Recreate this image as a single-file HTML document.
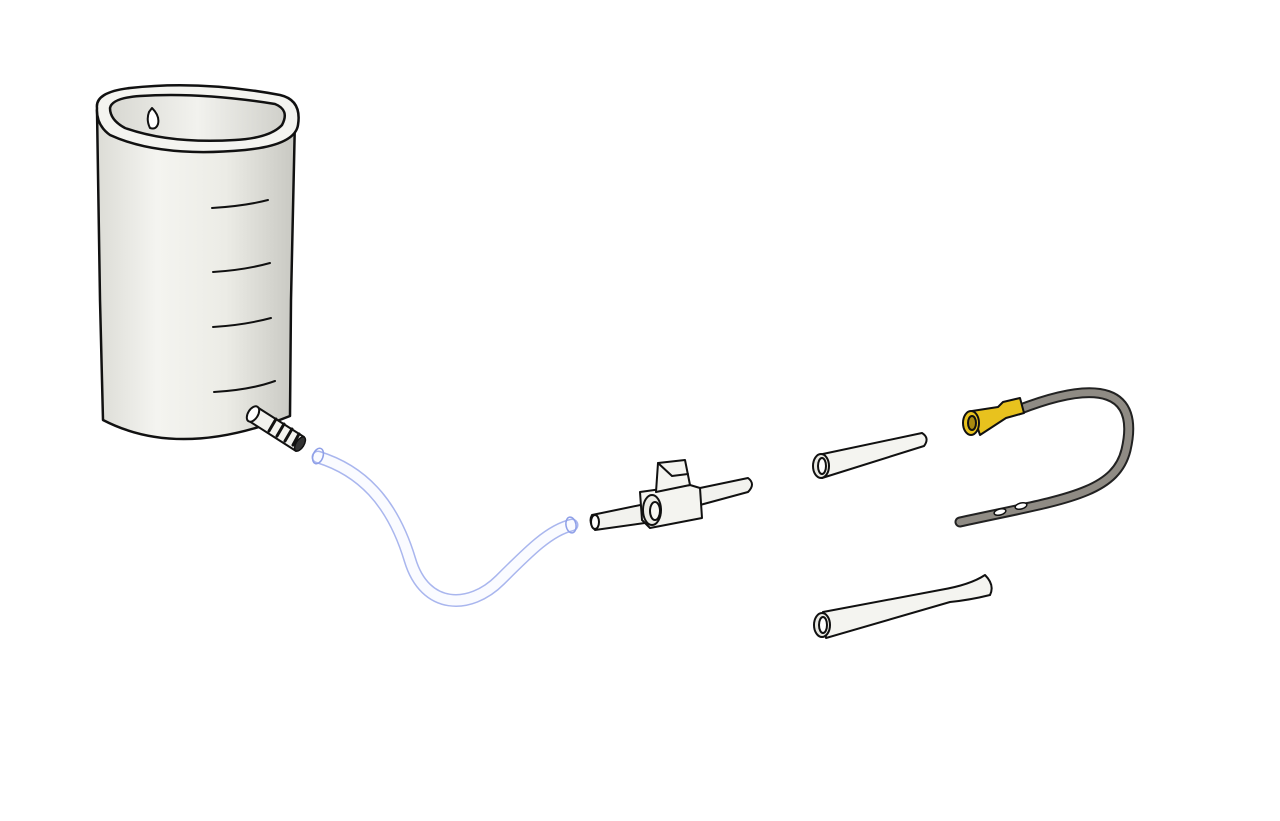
<!DOCTYPE html>
<html><head><style>html,body{margin:0;padding:0;background:#fff}svg{display:block}</style></head>
<body>
<svg width="1280" height="821" viewBox="0 0 1280 821" xmlns="http://www.w3.org/2000/svg">
<defs>
<linearGradient id="cyl" x1="0" x2="1" y1="0" y2="0">
<stop offset="0" stop-color="#dcdcd6"/><stop offset="0.3" stop-color="#f4f4f0"/><stop offset="0.65" stop-color="#ecece6"/><stop offset="1" stop-color="#c8c8c2"/>
</linearGradient>
<linearGradient id="inner" x1="0" x2="1"><stop offset="0" stop-color="#d8d8d2"/><stop offset="0.5" stop-color="#f2f2ee"/><stop offset="1" stop-color="#d0d0ca"/></linearGradient>
</defs>
<g stroke="#111" stroke-width="2.5" stroke-linejoin="round" stroke-linecap="round">
<path d="M97,110 L100,300 L103,420 Q180,460 290,416 L291,300 L295,118 Z" fill="url(#cyl)"/>
<path d="M97,108 Q95,92 130,88 Q200,80 280,95 Q302,100 298,125 Q295,145 245,150 Q160,158 110,135 Q96,125 97,108 Z" fill="#f4f4f0"/>
<path d="M110,108 Q112,98 140,96 Q200,92 275,104 Q290,110 282,125 Q270,138 235,140 Q170,144 125,128 Q110,120 110,108 Z" fill="url(#inner)"/>
<path d="M149,112 Q146,120 150,128 Q156,130 158,124 Q160,116 152,108 Z" fill="#fff" stroke-width="2"/>
<path d="M212,208 Q245,206 268,200 M213,272 Q245,270 270,263 M213,327 Q245,325 271,318 M214,392 Q250,390 275,381" fill="none" stroke-width="2"/>
<!-- outlet -->
<path d="M257,407 L304,437 L296,451 L249,421 Z" fill="#f2f2ee" stroke-width="2"/>
<ellipse cx="253" cy="414" rx="5" ry="8.5" transform="rotate(32 253 414)" fill="#fff" stroke-width="2"/>
<path d="M276,419 l-7,12 M284,424 l-7,12 M292,429 l-7,12 M299,434 l-6,11" stroke-width="3"/>
<ellipse cx="300" cy="444" rx="4" ry="8" transform="rotate(32 300 444)" fill="#333" stroke-width="1.5"/>
</g>
<path d="M318,457 C360,470 392,500 410,560 C425,610 470,610 500,580 C530,550 550,530 572,525" fill="none" stroke="#a9b6ee" stroke-width="13" stroke-linecap="round"/>
<path d="M318,457 C360,470 392,500 410,560 C425,610 470,610 500,580 C530,550 550,530 572,525" fill="none" stroke="#fafbff" stroke-width="10" stroke-linecap="round"/>
<ellipse cx="318" cy="456" rx="5" ry="8" fill="none" stroke="#8fa0e8" stroke-width="1.5" transform="rotate(20 318 456)"/>
<ellipse cx="571" cy="525" rx="5" ry="8" fill="none" stroke="#8fa0e8" stroke-width="1.5" transform="rotate(-10 571 525)"/>
<g stroke="#111" stroke-width="2" stroke-linejoin="round" stroke-linecap="round">
<path d="M700,488 L748,478 Q756,484 748,492 L700,505 Z" fill="#f2f2ee"/>
<path d="M592,515 L650,503 L652,522 L595,530 Q588,522 592,515 Z" fill="#f2f2ee"/>
<ellipse cx="595" cy="522" rx="4" ry="7" fill="#fff"/>
<path d="M640,492 L690,485 L700,488 L702,518 L650,528 L642,520 Z" fill="#f4f4f0"/>
<ellipse cx="652" cy="510" rx="9" ry="15" fill="#ecece6"/>
<ellipse cx="655" cy="511" rx="5" ry="9" fill="#f8f8f4"/>
<path d="M656,492 L658,463 L685,460 L690,485 Z" fill="#f4f4f0"/>
<path d="M658,463 L672,476 L688,474" fill="none"/>
<path d="M818,455 L922,433 Q930,438 924,446 L822,478 Z" fill="#f4f4f0"/>
<ellipse cx="821" cy="466" rx="8" ry="12" fill="#e8e8e2"/><ellipse cx="822" cy="466" rx="4" ry="8" fill="#fff"/>
<path d="M823,612 L940,590 Q970,585 985,575 Q995,585 990,595 Q970,600 950,602 L826,638 Z" fill="#f4f4f0"/>
<ellipse cx="822" cy="625" rx="8" ry="12" fill="#e8e8e2"/><ellipse cx="823" cy="625" rx="4" ry="8" fill="#fff"/>
<path d="M1018,410 C1100,378 1140,390 1126,450 C1115,495 1060,500 960,522" fill="none" stroke="#222" stroke-width="11"/>
<path d="M1018,410 C1100,378 1140,390 1126,450 C1115,495 1060,500 960,522" fill="none" stroke="#8f8b84" stroke-width="7" stroke-linecap="round"/>
<ellipse cx="1000" cy="512" rx="6" ry="3" fill="#fff" transform="rotate(-15 1000 512)" stroke-width="1.5"/>
<ellipse cx="1021" cy="506" rx="6" ry="3" fill="#fff" transform="rotate(-15 1021 506)" stroke-width="1.5"/>
<path d="M972,411 L998,407 L1003,402 L1020,398 L1024,413 L1006,418 L980,435 Z" fill="#e8c21e"/>
<ellipse cx="971" cy="423" rx="8" ry="12" fill="#e8c21e"/><ellipse cx="972" cy="423" rx="4" ry="7" fill="#a88a10"/>
</g>
</svg>
</body></html>
